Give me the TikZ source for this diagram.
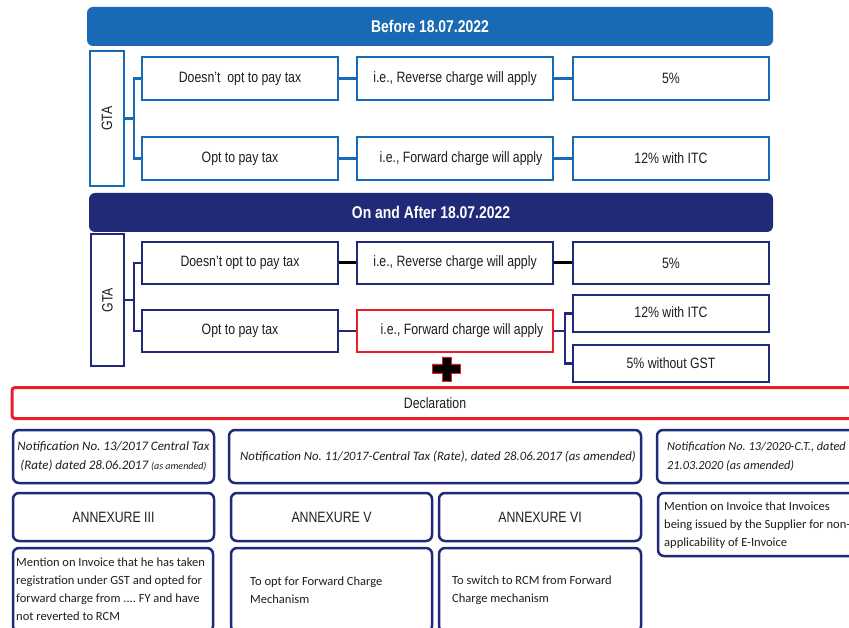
\documentclass[tikz,border=0pt]{standalone}
\usepackage{fontspec}
\usepackage{graphicx}
\setmainfont{Liberation Sans}
\newfontfamily\calib{Carlito}
\frenchspacing
\definecolor{topblue}{RGB}{24,106,180}
\definecolor{navy}{RGB}{32,42,120}
\definecolor{redb}{RGB}{232,30,40}
\definecolor{txt}{RGB}{30,30,30}
\newcommand{\nar}[1]{\scalebox{0.82}[1]{#1}}
\tikzset{
  tb/.style={draw=topblue, line width=2.4pt, fill=white, minimum width=196pt, minimum height=43pt, inner sep=0pt, text=txt, font=\fontsize{15}{18}\selectfont},
  nb/.style={tb, draw=navy},
  gta/.style={tb, minimum width=34pt, rotate=90},
  hd/.style={rounded corners=6pt, inner sep=0pt, text=white, font=\bfseries\fontsize{17}{20}\selectfont, minimum height=39pt},
  tl/.style={draw=topblue, line width=2.4pt},
  nl/.style={draw=navy, line width=2.4pt},
  kl/.style={draw=black, line width=3pt},
  rb/.style={draw=navy, line width=2.5pt, rounded corners=6pt, fill=white, inner sep=0pt, text=txt},
  ax/.style={rb, minimum width=201pt, minimum height=48pt, font=\fontsize{15}{18}\selectfont},
  nt/.style={rb, minimum height=53pt},
  it/.style={font=\calib\itshape\fontsize{13}{19}\selectfont, text=txt, inner sep=0pt},
  bt/.style={font=\calib\fontsize{12.5}{18}\selectfont, text=txt, inner sep=0pt, align=left},
}
\begin{document}
\begin{tikzpicture}[x=1pt,y=-1pt]
\useasboundingbox (0,0) rectangle (849,628);
\clip (0,0) rectangle (849,628);
\fill[white] (0,0) rectangle (849,628);

% ---------- Before ----------
\node[hd, fill=topblue, minimum width=686pt] (h1) at (430,26.5) {\nar{Before 18.07.2022}};
\node[gta, minimum height=34pt, minimum width=135pt] (g1) at (107,118.5) {\nar{GTA}};
\node[tb] (a1) at (240,78.5) {\nar{Doesn't~ opt to pay tax}};
\node[tb] (b1) at (455,78.5) {\nar{i.e., Reverse charge will apply}};
\node[tb] (c1) at (671,78.5) {\nar{5\%}};
\node[tb] (d1) at (240,158.5) {\nar{Opt to pay tax}};
\node[tb] (e1) at (455,158.5) {\hspace*{12pt}\nar{i.e., Forward charge will apply}};
\node[tb] (f1) at (671,158.5) {\nar{12\% with ITC}};
\coordinate (j1) at (134,118.5);
\draw[tl] (g1.south) -- (j1);
\draw[tl] (a1.west) -| (j1);
\draw[tl] (d1.west) -| (j1);
\draw[tl] (a1) -- (b1);
\draw[tl] (b1) -- (c1);
\draw[tl] (d1) -- (e1);
\draw[tl] (e1) -- (f1);

% ---------- On and After ----------
\node[hd, fill=navy, minimum width=684pt] (h2) at (431,212.5) {\nar{On and After 18.07.2022}};
\node[gta, draw=navy, minimum height=33pt, minimum width=132pt] (g2) at (107.5,300) {\nar{GTA}};
\node[nb, minimum height=42pt] (a2) at (240,263) {\nar{Doesn't opt to pay tax}};
\node[nb, minimum height=42pt] (b2) at (455,263) {\nar{i.e., Reverse charge will apply}};
\node[nb, minimum height=42pt] (c2) at (671,263) {\nar{5\%}};
\node[nb, minimum height=42pt] (d2) at (240,331) {\nar{Opt to pay tax}};
\node[nb, draw=redb, minimum height=42pt] (e2) at (455,331) {\hspace*{14pt}\nar{i.e., Forward charge will apply}};
\node[nb, minimum height=37pt] (f2) at (671,313.5) {\raisebox{2pt}{\nar{12\% with ITC}}};
\node[nb, minimum height=37pt] (k2) at (671,363.5) {\nar{5\% without GST}};
\coordinate (j2) at (134,300);
\coordinate (j3) at (565,331);
\draw[nl] (g2.south) -- (j2);
\draw[nl] (a2.west) -| (j2);
\draw[nl] (d2.west) -| (j2);
\draw[kl] (a2) -- (b2);
\draw[kl] (b2) -- (c2);
\draw[nl] (d2) -- (e2);
\draw[nl] (e2.east) -- (j3);
\draw[nl] (f2.west) -| (j3);
\draw[nl] (k2.west) -| (j3);

% plus sign
\draw[redb, fill=black, line width=0.8pt] (442,357) -- (451,357) -- (451,364) -- (460,364) -- (460,373) -- (451,373) -- (451,381) -- (442,381) -- (442,373) -- (432,373) -- (432,364) -- (442,364) -- cycle;

% ---------- Declaration ----------
\node[draw=redb, line width=3pt, rounded corners=3pt, fill=white, minimum width=846pt, minimum height=31pt, inner sep=0pt, text=txt, font=\fontsize{15}{18}\selectfont] (dec) at (435,403) {\nar{Declaration}};

% notifications
\node[nt, minimum width=201pt] (n1) at (113.5,456.5) {};
\node[it, align=center] (n1t) at (n1.center) {Notification No. 13/2017 Central Tax\\(Rate) dated 28.06.2017 {\fontsize{10}{19}\selectfont(as amended)}};
\node[nt, minimum width=412pt] (n2) at (435,456.5) {};
\node[it, font=\calib\itshape\fontsize{12.8}{19}\selectfont] (n2t) at (438,456.5) {Notification No. 11/2017-Central Tax (Rate), dated 28.06.2017 (as amended)};
\node[nt, minimum width=220pt] (n3) at (767,456.5) {};
\node[it, anchor=west, align=left, font=\calib\itshape\fontsize{12.3}{19}\selectfont] (n3t) at (667,456.5) {Notification No. 13/2020-C.T., dated\\21.03.2020 (as amended)};

% annexures
\node[ax] (x1) at (113.5,517) {\nar{ANNEXURE III}};
\node[ax] (x2) at (331.5,517) {\nar{ANNEXURE V}};
\node[ax, minimum width=202pt] (x3) at (540,517) {\nar{ANNEXURE VI}};
\node[rb, minimum width=220pt, minimum height=63pt] (m3) at (768,524.5) {};
\node[bt, anchor=west] (m3t) at (664,525) {Mention on Invoice that Invoices\\being issued by the Supplier for non-\\applicability of E-Invoice};

% bottom boxes
\node[rb, minimum width=200pt, minimum height=84pt] (y1) at (113,590) {};
\node[rb, minimum width=201pt, minimum height=84pt] (y2) at (331.5,590) {};
\node[rb, minimum width=202pt, minimum height=84pt] (y3) at (540,590) {};
\node[bt, anchor=west] (y1t) at (16,589.5) {Mention on Invoice that he has taken\\registration under GST and opted for\\forward charge from .... FY and have\\not reverted to RCM};
\node[bt, anchor=west] (y2t) at (250,590) {To opt for Forward Charge\\Mechanism};
\node[bt, anchor=west] (y3t) at (452,590) {To switch to RCM from Forward\\Charge mechanism};
\end{tikzpicture}
\end{document}
